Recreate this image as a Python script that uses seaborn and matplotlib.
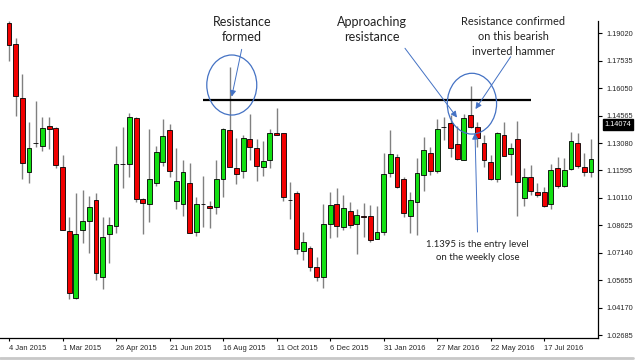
import numpy as np
import pandas as pd
import seaborn as sns
import matplotlib.pyplot as plt
import matplotlib.transforms as mtransforms
from matplotlib.patches import Ellipse
from matplotlib.lines import Line2D

# weekly EURUSD candles, 4 Jan 2015 onwards
opens = [1.1956, 1.1845, 1.1553, 1.1150, 1.1310, 1.1294, 1.1400, 1.1391, 1.1177, 1.0832,
         1.0467, 1.0837, 1.0884, 1.1000, 1.0584, 1.0815, 1.0860, 1.1194, 1.1194, 1.1445,
         1.1003, 1.0978, 1.1093, 1.1207, 1.1377, 1.0996, 1.0978, 1.1092, 1.0826, 1.0978,
         1.0969, 1.0960, 1.1113, 1.1377, 1.1171, 1.1158, 1.1330, 1.1283, 1.1180, 1.1216,
         1.1364, 1.1361, 1.1000, 1.1036, 1.0725, 1.0738, 1.0635, 1.0581, 1.0870, 1.0978,
         1.0852, 1.0942, 1.0870, 1.0915, 1.0915, 1.0788, 1.0828, 1.1144, 1.1231, 1.1112,
         1.0913, 1.0987, 1.1135, 1.1252, 1.1158, 1.1396, 1.1418, 1.1301, 1.1216, 1.1460,
         1.1395, 1.1310, 1.1207, 1.1113, 1.1351, 1.1249, 1.1328, 1.1009, 1.1122, 1.1044,
         1.1044, 1.0978, 1.1171, 1.1077, 1.1167, 1.1310, 1.1177, 1.1150]
highs = [1.1969, 1.1875, 1.1682, 1.1423, 1.1537, 1.1447, 1.1451, 1.1395, 1.1243, 1.0909,
         1.1039, 1.1054, 1.1023, 1.1036, 1.0909, 1.0909, 1.1292, 1.1393, 1.1469, 1.1448,
         1.1009, 1.1382, 1.1292, 1.1436, 1.1409, 1.1279, 1.1216, 1.1198, 1.1017, 1.1129,
         1.0996, 1.1216, 1.1388, 1.1718, 1.1334, 1.1351, 1.1465, 1.1330, 1.1319, 1.1382,
         1.1496, 1.1362, 1.1099, 1.1050, 1.0828, 1.0752, 1.0689, 1.0978, 1.1041, 1.1063,
         1.1027, 1.0990, 1.0949, 1.0982, 1.0972, 1.0969, 1.1252, 1.1379, 1.1249, 1.1126,
         1.1044, 1.1225, 1.1342, 1.1285, 1.1436, 1.1447, 1.1460, 1.1400, 1.1464, 1.1617,
         1.1423, 1.1351, 1.1243, 1.1369, 1.1423, 1.1307, 1.1427, 1.1171, 1.1189, 1.1090,
         1.1072, 1.1194, 1.1234, 1.1225, 1.1369, 1.1364, 1.1256, 1.1328]
lows = [1.1754, 1.1456, 1.1112, 1.1093, 1.1288, 1.1266, 1.1276, 1.1174, 1.0835, 1.0462,
        1.0465, 1.0765, 1.0711, 1.0566, 1.0516, 1.0657, 1.0819, 1.1063, 1.1126, 1.0990,
        1.0814, 1.0882, 1.1075, 1.1184, 1.1126, 1.0949, 1.0913, 1.0820, 1.0806, 1.0855,
        1.0846, 1.0924, 1.1014, 1.1178, 1.1085, 1.1117, 1.1216, 1.1104, 1.1131, 1.1171,
        1.1350, 1.0996, 1.0895, 1.0707, 1.0675, 1.0617, 1.0563, 1.0521, 1.0792, 1.0801,
        1.0837, 1.0846, 1.0707, 1.0801, 1.0774, 1.0786, 1.0810, 1.1126, 1.1063, 1.0909,
        1.0822, 1.0810, 1.1050, 1.1135, 1.1147, 1.1324, 1.1231, 1.1216, 1.1214, 1.1388,
        1.1285, 1.1177, 1.1110, 1.1099, 1.1238, 1.1135, 1.0913, 1.0967, 1.1027, 1.1017,
        1.0963, 1.0949, 1.1063, 1.1072, 1.1162, 1.1171, 1.1129, 1.1126]
closes = [1.1839, 1.1563, 1.1198, 1.1283, 1.1308, 1.1388, 1.1382, 1.1189, 1.0837, 1.0494,
          1.0815, 1.0886, 1.0960, 1.0603, 1.0801, 1.0864, 1.1194, 1.1196, 1.1447, 1.1003,
          1.0982, 1.1112, 1.1258, 1.1346, 1.1158, 1.1102, 1.1150, 1.0822, 1.0978, 1.0979,
          1.0955, 1.1112, 1.1382, 1.1180, 1.1140, 1.1337, 1.1285, 1.1184, 1.1211, 1.1361,
          1.1351, 1.1014, 1.1001, 1.0733, 1.0771, 1.0638, 1.0584, 1.0868, 1.0972, 1.0860,
          1.0955, 1.0864, 1.0918, 1.0906, 1.0783, 1.0828, 1.1140, 1.1249, 1.1072, 1.0928,
          1.1000, 1.1144, 1.1270, 1.1158, 1.1382, 1.1397, 1.1279, 1.1220, 1.1442, 1.1395,
          1.1334, 1.1216, 1.1112, 1.1364, 1.1239, 1.1279, 1.1095, 1.1126, 1.1050, 1.1027,
          1.0969, 1.1162, 1.1075, 1.1162, 1.1319, 1.1184, 1.1150, 1.1222]

date_labels = ['4 Jan 2015', '1 Mar 2015', '26 Apr 2015', '21 Jun 2015', '16 Aug 2015',
               '11 Oct 2015', '6 Dec 2015', '31 Jan 2016', '27 Mar 2016', '22 May 2016',
               '17 Jul 2016']
price_ticks = [1.02685, 1.04170, 1.05655, 1.07140, 1.08625, 1.10110, 1.11595,
               1.13080, 1.14565, 1.16050, 1.17535, 1.19020]
resistance = 1.1542
current_price = 1.14074

# %%
sns.set_style('white')
plt.rcParams['font.family'] = ['Lato', 'DejaVu Sans']

df = pd.DataFrame({'open': opens, 'high': highs, 'low': lows, 'close': closes})
df['week'] = np.arange(len(df))
df['bull'] = df['close'] >= df['open']

fig = plt.figure(figsize=(6.4, 3.63), dpi=100)
ax = fig.add_axes([0.0, 25 / 363, 597.7 / 640, 317.3 / 363])

# wicks then bodies
ax.vlines(df['week'], df['low'], df['high'], color='#808080', lw=1.0, zorder=1)
body_colors = np.where(df['bull'], '#12e012', '#f20000')
ax.bar(df['week'], (df['close'] - df['open']).abs(),
       bottom=df[['open', 'close']].min(axis=1),
       width=0.72, color=body_colors, edgecolor='black', linewidth=0.6, zorder=2)

ax.set_xlim(-1.345, 88.0)
ax.set_ylim(1.02524, 1.19702)

ax.set_xticks(np.arange(0, len(df), 8)[:len(date_labels)])
ax.set_xticklabels(date_labels)
for lbl in ax.get_xticklabels():
    lbl.set_ha('left')
    lbl.set_fontfamily('Liberation Sans')

ax.yaxis.tick_right()
ax.set_yticks(price_ticks)
ax.set_yticklabels([f'{p:.5f}' for p in price_ticks])
for lbl in ax.get_yticklabels():
    lbl.set_fontfamily('Liberation Sans')

ax.tick_params(axis='x', bottom=True, direction='out', length=2.5, width=0.8,
               pad=2.5, labelsize=5.4, color='black')
ax.tick_params(axis='y', right=True, left=False, direction='out', length=3, width=0.8,
               pad=3, labelsize=5.3, color='black')
for s in ['top', 'left']:
    ax.spines[s].set_visible(False)
for s in ['bottom', 'right']:
    ax.spines[s].set_color('black')
    ax.spines[s].set_linewidth(0.9)

# current price tag
trans = mtransforms.blended_transform_factory(ax.transAxes, ax.transData)
ax.text(1.012, current_price, f'{current_price:.5f}', transform=trans, va='center', ha='left',
        fontsize=5.3, family='Liberation Sans', color='white', clip_on=False,
        bbox=dict(facecolor='black', edgecolor='black', pad=1.2))

# resistance line
ax.hlines(resistance, 29.0, 78.1, color='black', lw=1.6, zorder=3)

# annotations
blue = '#4472c4'
ax.add_patch(Ellipse((33.3, 1.1622), 7.47, 0.0325, fill=False, ec=blue, lw=0.9, zorder=4))
ax.add_patch(Ellipse((69.2, 1.1521), 7.37, 0.0329, fill=False, ec=blue, lw=0.9, zorder=4))

arrow = dict(arrowstyle='-|>', color=blue, lw=0.7, mutation_scale=9, shrinkA=0, shrinkB=0)
ax.annotate('', xy=(33.29, 1.1559), xytext=(34.78, 1.1815), arrowprops=arrow, annotation_clip=False)
ax.annotate('', xy=(66.97, 1.1446), xytext=(59.19, 1.1821), arrowprops=arrow, annotation_clip=False)
ax.annotate('', xy=(69.73, 1.1492), xytext=(74.99, 1.1775), arrowprops=arrow, annotation_clip=False)
ax.annotate('', xy=(69.66, 1.1362), xytext=(70.03, 1.0826), arrowprops=arrow, annotation_clip=False)

txt = dict(ha='center', va='center', color='#222222', clip_on=False)
ax.text(34.8, 1.1925, 'Resistance\nformed', fontsize=9, linespacing=1.3, **txt)
ax.text(54.26, 1.1920, 'Approaching\nresistance', fontsize=9, linespacing=1.3, **txt)
ax.text(75.34, 1.1887, 'Resistance confirmed\non this bearish\ninverted hammer',
        fontsize=7.9, linespacing=1.45, **txt)
ax.text(70.03, 1.0725, '1.1395 is the entry level\non the weekly close',
        fontsize=6.9, linespacing=1.55, **txt)

# scroll bar line under the chart
fig.add_artist(Line2D([0, 633 / 640], [1 - 357.5 / 363] * 2, color='#c8c8c8', lw=2))

plt.savefig('out.png', dpi=100)
